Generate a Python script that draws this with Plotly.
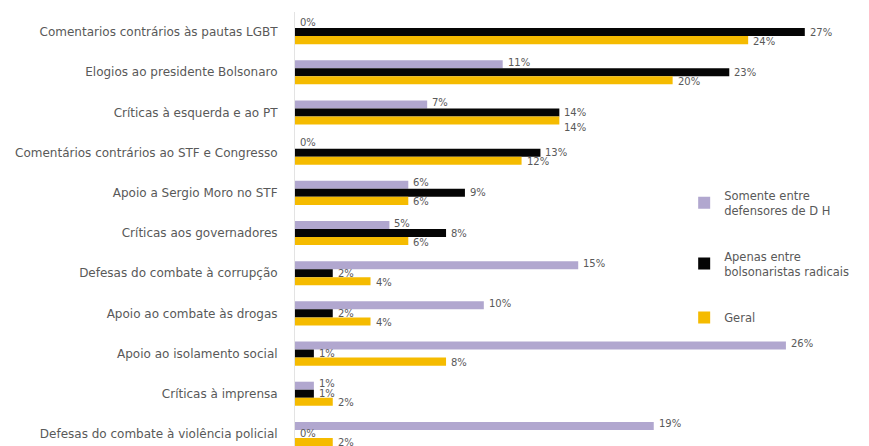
import plotly.graph_objects as go

categories = [
    "Comentarios contrários às pautas LGBT",
    "Elogios ao presidente Bolsonaro",
    "Críticas à esquerda e ao PT",
    "Comentários contrários ao STF e Congresso",
    "Apoio a Sergio Moro no STF",
    "Críticas aos governadores",
    "Defesas do combate à corrupção",
    "Apoio ao combate às drogas",
    "Apoio ao isolamento social",
    "Críticas à imprensa",
    "Defesas do combate à violência policial",
]
somente_dh = [0, 11, 7, 0, 6, 5, 15, 10, 26, 1, 19]
bolsonaristas = [27, 23, 14, 13, 9, 8, 2, 2, 1, 1, 0]
geral = [24, 20, 14, 12, 6, 6, 4, 4, 8, 2, 2]

series = [
    ("Somente entre<br>defensores de D H", somente_dh, "#b1a7cf"),
    ("Apenas entre<br>bolsonaristas radicais", bolsonaristas, "#050505"),
    ("Geral", geral, "#f5bb00"),
]
# vertical pixel shift of each series' value label (bar offset + stagger)
label_shift = [10, 0, -9]

LABEL_FONT = dict(size=10, color="#595959", family="DejaVu Sans")

fig = go.Figure()
for i, (name, vals, color) in enumerate(series):
    fig.add_trace(go.Bar(
        y=categories, x=vals, orientation="h", name=name,
        marker=dict(color=color, line=dict(width=0)),
        legendgroup=f"g{i}",
    ))
    for j, (cat, v) in enumerate(zip(categories, vals)):
        shift = label_shift[i]
        # push the "Geral" label further down when it would collide with the black one
        if i == 2 and v > 2 and abs(v - bolsonaristas[j]) < 1:
            shift -= 6
        fig.add_annotation(
            x=v, y=cat, text=f"{v}%", showarrow=False,
            xanchor="left", yanchor="middle", xshift=3,
            yshift=shift, font=LABEL_FONT,
        )

fig.update_layout(
    width=869, height=446,
    margin=dict(l=295, r=0, t=12, b=0),
    paper_bgcolor="white", plot_bgcolor="white",
    barmode="group", bargap=0.4, bargroupgap=0,
    font=dict(family="DejaVu Sans", color="#595959", size=11),
    xaxis=dict(range=[0, 30.4], visible=False),
    yaxis=dict(
        autorange=False, range=[10.3, -0.5], type="category",
        showline=True, linecolor="#e3e3e3", linewidth=1,
        ticks="outside", ticklen=14, tickcolor="rgba(0,0,0,0)",
        tickfont=dict(size=12, color="#595959", family="DejaVu Sans"),
        showgrid=False, zeroline=False,
    ),
    legend=dict(
        x=0.678, y=0.61, xanchor="left", yanchor="top",
        bgcolor="rgba(0,0,0,0)", traceorder="grouped",
        font=dict(size=11.5, color="#595959", family="DejaVu Sans"),
        tracegroupgap=28, itemwidth=30,
    ),
    showlegend=True,
)

fig.write_html("out.html")
